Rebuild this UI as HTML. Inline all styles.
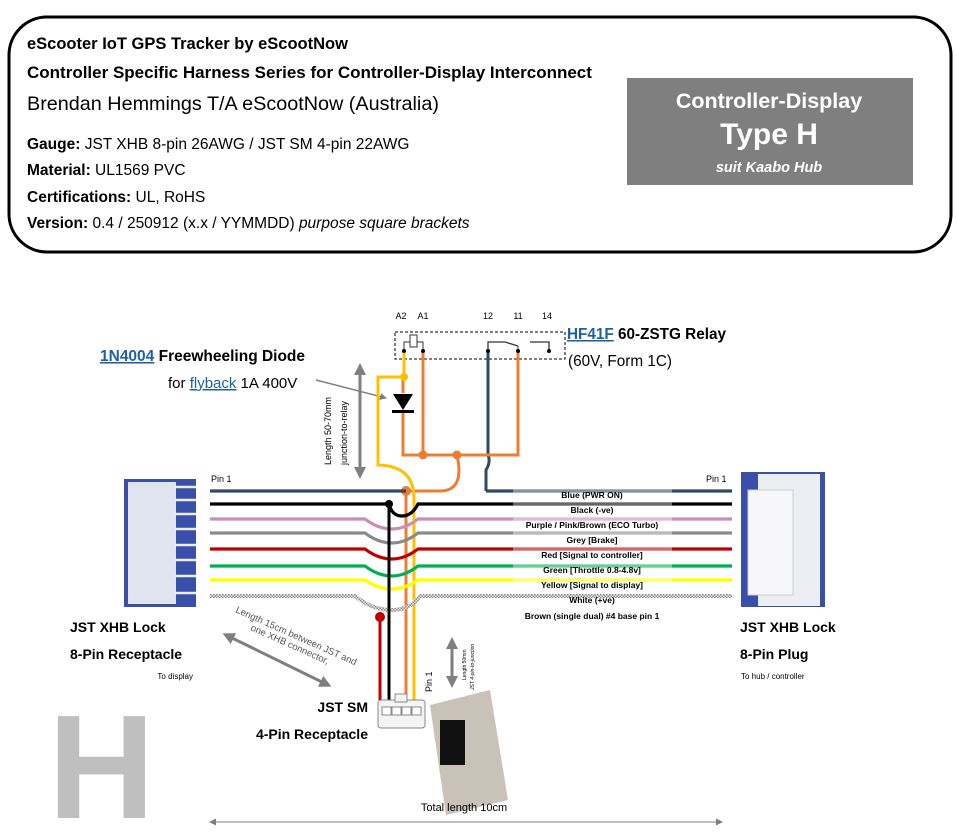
<!DOCTYPE html>
<html><head><meta charset="utf-8"><style>
html,body{margin:0;padding:0;background:#fff;}
body{width:957px;height:834px;overflow:hidden;position:relative;font-family:"Liberation Sans",sans-serif;}
svg{position:absolute;left:0;top:0;}
</style></head><body>
<svg width="957" height="834" viewBox="0 0 957 834" xmlns="http://www.w3.org/2000/svg" font-family="Liberation Sans, sans-serif">
<defs>
<pattern id="chk" width="3" height="3" patternUnits="userSpaceOnUse"><rect width="3" height="3" fill="#eee"/><rect width="1.5" height="1.5" fill="#888"/><rect x="1.5" y="1.5" width="1.5" height="1.5" fill="#888"/></pattern>
<marker id="ah" markerUnits="userSpaceOnUse" markerWidth="12" markerHeight="12" refX="6" refY="6" orient="auto-start-reverse"><path d="M0,0 L12,6 L0,12 z" fill="#7f7f7f"/></marker>
<marker id="ahs" markerUnits="userSpaceOnUse" markerWidth="7" markerHeight="7" refX="6" refY="3.5" orient="auto-start-reverse"><path d="M0,0 L7,3.5 L0,7 z" fill="#7f7f7f"/></marker>
</defs>
<rect x="9" y="17" width="942" height="235" rx="38" ry="38" fill="#fff" stroke="#000" stroke-width="3"/>
<g fill="#000" font-size="15.5">
<text x="27" y="49" font-weight="bold" font-size="16.5">eScooter IoT GPS Tracker by eScootNow</text>
<text x="27" y="78" font-weight="bold" font-size="17">Controller Specific Harness Series for Controller-Display Interconnect</text>
<text x="27" y="110" font-size="19.8">Brendan Hemmings T/A eScootNow (Australia)</text>
<text x="27" y="149" font-size="15.5"><tspan font-weight="bold">Gauge:</tspan> JST XHB 8-pin 26AWG / JST SM 4-pin 22AWG</text>
<text x="27" y="175" font-size="15.5"><tspan font-weight="bold">Material:</tspan> UL1569 PVC</text>
<text x="27" y="202" font-size="15.5"><tspan font-weight="bold">Certifications:</tspan> UL, RoHS</text>
<text x="27" y="228" font-size="15.5"><tspan font-weight="bold">Version:</tspan> 0.4 / 250912 (x.x / YYMMDD) <tspan font-style="italic">purpose square brackets</tspan></text>
</g>
<rect x="627" y="78" width="286" height="107" fill="#7f7f7f"/>
<g fill="#fff" font-weight="bold" text-anchor="middle">
<text x="769" y="108" font-size="21.5">Controller-Display</text>
<text x="769" y="144" font-size="30">Type H</text>
<text x="769" y="172" font-size="14.5" font-style="italic">suit Kaabo Hub</text>
</g>

<rect x="124" y="479" width="72" height="128" fill="#3a4faa"/>
<rect x="128" y="482" width="48" height="122" fill="#dfe4ee"/>
<g stroke="#eee" stroke-width="2.5"><line x1="175" y1="487" x2="196" y2="487"/><line x1="175" y1="500" x2="196" y2="500"/><line x1="175" y1="514" x2="196" y2="514"/><line x1="175" y1="529" x2="196" y2="529"/><line x1="175" y1="545" x2="196" y2="545"/><line x1="175" y1="560" x2="196" y2="560"/><line x1="175" y1="576" x2="196" y2="576"/><line x1="175" y1="593" x2="196" y2="593"/></g>
<rect x="741" y="472" width="84" height="135" fill="#3a4faa"/>
<rect x="758" y="474" width="62" height="132" fill="#eceef4"/>
<rect x="748" y="490" width="45" height="105" fill="#f7f7fa" stroke="#ccc"/>

<rect x="395" y="332" width="170" height="27" fill="none" stroke="#000" stroke-dasharray="3,2"/>
<g font-size="9" fill="#000" text-anchor="middle"><text x="401" y="319">A2</text><text x="423" y="319">A1</text><text x="488" y="319">12</text><text x="518" y="319">11</text><text x="547" y="319">14</text></g>
<path d="M404,351 V342 H410 M417,342 H423 V351" fill="none" stroke="#333"/>
<rect x="410" y="335" width="7" height="12" fill="#fff" stroke="#333"/>
<path d="M488,351 V342 H505 L518,346 M530,342 H549 V351" fill="none" stroke="#333" stroke-width="1.3"/>
<line x1="518" y1="346" x2="518" y2="351" stroke="#333"/>
<text x="567" y="339" font-size="15.3" font-weight="bold"><tspan fill="#1f5fa8" text-decoration="underline">HF41F</tspan> 60-ZSTG Relay</text>
<text x="568" y="366" font-size="15.3">(60V, Form 1C)</text>
<text x="100" y="361" font-size="15.5" font-weight="bold"><tspan fill="#1f5fa8" text-decoration="underline">1N4004</tspan> Freewheeling Diode</text>
<text x="168" y="388" font-size="15">for <tspan fill="#1f5fa8" text-decoration="underline">flyback</tspan> 1A 400V</text>
<line x1="316" y1="380" x2="386" y2="398" stroke="#7f7f7f" stroke-width="1.5" marker-end="url(#ahs)"/>
<line x1="360" y1="369" x2="360" y2="473" stroke="#7f7f7f" stroke-width="3" marker-start="url(#ah)" marker-end="url(#ah)"/>
<text transform="translate(331,465) rotate(-90)" font-size="9">Length 50-70mm</text>
<text transform="translate(347,465) rotate(-90)" font-size="9">junction-to-relay</text>

<path d="M486,491 V470 Q491,462 488,455 V351" fill="none" stroke="#2e4a66" stroke-width="3"/>
<path d="M423,351 V455 M403,412 V455 H518 V351 M457,455 Q465,491 440,491 H406" fill="none" stroke="#ed7d31" stroke-width="3"/>
<path d="M404,351 V377 H378 V465 Q414,466 414,498 V700" fill="none" stroke="#ffc000" stroke-width="3"/>
<path d="M403,377 V393" stroke="#ed7d31" stroke-width="3"/>
<polygon points="393,394 413,394 403,410" fill="#000"/><rect x="392" y="410" width="22" height="3" fill="#000"/>
<path d="M406,491 V700" stroke="#ed7d31" stroke-width="3"/>
<g fill="#ffc000"><circle cx="404" cy="377" r="4"/></g>
<g fill="#ed7d31"><circle cx="423" cy="455" r="4.5"/><circle cx="457" cy="455" r="4.5"/><circle cx="406" cy="491" r="5"/></g>
<g fill="#000"><circle cx="404" cy="351" r="2"/><circle cx="423" cy="351" r="2"/><circle cx="488" cy="351" r="2"/><circle cx="518" cy="351" r="2"/><circle cx="549" cy="351" r="2"/></g>

<g fill="none" stroke-width="3.2">
<path d="M210,491 H406 M486,491 H732" stroke="#2e4a66"/>
<path d="M210,504 H389 Q392,516 402,516 Q412,516 418,504 H732" stroke="#000"/>
<path d="M210,519 H365 Q378,529 392,529 Q405,529 418,519 H732" stroke="#c890ad"/>
<path d="M210,533 H365 Q378,543 392,543 Q405,543 418,533 H732" stroke="#8a8a8a"/>
<path d="M210,549 H365 Q378,559 392,559 Q405,559 418,549 H732" stroke="#c00000"/>
<path d="M210,566 H365 Q378,576 392,576 Q405,576 418,566 H732" stroke="#00b050"/>
<path d="M210,580 H365 Q378,589 392,589 Q405,589 418,580 H732" stroke="#ffff00"/>
<path d="M210,596 H355 Q372,610 392,610 Q410,610 420,596 H732" stroke="url(#chk)" stroke-width="4"/>
</g>
<g stroke="#fff" stroke-opacity="0.4" stroke-width="3.2"><line x1="513" y1="491" x2="672" y2="491"/><line x1="513" y1="504" x2="672" y2="504"/><line x1="513" y1="519" x2="672" y2="519"/><line x1="513" y1="533" x2="672" y2="533"/><line x1="513" y1="549" x2="672" y2="549"/><line x1="513" y1="566" x2="672" y2="566"/><line x1="513" y1="580" x2="672" y2="580"/></g>
<path d="M389,504 V700" stroke="#000" stroke-width="3"/>
<path d="M380,617 V700" stroke="#c00000" stroke-width="3"/>
<circle cx="380" cy="617" r="5" fill="#c00000"/>
<circle cx="389" cy="504" r="4" fill="#000"/>
<g font-size="8.5" font-weight="bold" text-anchor="middle" fill="#000">
<text x="592" y="498">Blue (PWR ON)</text><text x="592" y="513">Black (-ve)</text><text x="592" y="528">Purple / Pink/Brown (ECO Turbo)</text><text x="592" y="543">Grey [Brake]</text><text x="592" y="558">Red [Signal to controller]</text><text x="592" y="573">Green [Throttle 0.8-4.8v]</text><text x="592" y="588">Yellow [Signal to display]</text><text x="592" y="603">White (+ve)</text><text x="592" y="619">Brown (single dual) #4 base pin 1</text>
</g>
<text x="211" y="482" font-size="9">Pin 1</text><text x="706" y="482" font-size="9">Pin 1</text>

<rect x="378" y="700" width="47" height="28" rx="3" fill="#f4f4f4" stroke="#888"/>
<rect x="395" y="694" width="12" height="8" fill="#f4f4f4" stroke="#888"/>
<g fill="#fff" stroke="#888"><rect x="382" y="707" width="9" height="8"/><rect x="392" y="707" width="9" height="8"/><rect x="402" y="707" width="9" height="8"/><rect x="412" y="707" width="9" height="8"/></g>
<text transform="translate(432,692) rotate(-90)" font-size="9">Pin 1</text>
<polygon points="430,705 490,690 508,800 446,815" fill="#c8c2b8"/>
<rect x="440" y="720" width="25" height="45" fill="#111"/>
<line x1="452" y1="643" x2="452" y2="682" stroke="#7f7f7f" stroke-width="3" marker-start="url(#ah)" marker-end="url(#ah)"/>
<text transform="translate(466,680) rotate(-90)" font-size="5">Length 50mm</text>
<text transform="translate(474,690) rotate(-90)" font-size="5" font-style="italic">JST 4-pin-to-junction</text>

<line x1="228" y1="636" x2="326" y2="684" stroke="#7f7f7f" stroke-width="3" marker-start="url(#ah)" marker-end="url(#ah)"/>
<text transform="translate(235,612) rotate(24)" font-size="9.5" fill="#555">Length 15cm between JST and</text>
<text transform="translate(250,630) rotate(24)" font-size="9.5" fill="#555">one XHB connector,</text>

<g font-size="14" font-weight="bold" fill="#000">
<text x="70" y="632">JST XHB Lock</text><text x="70" y="659">8-Pin Receptacle</text>
<text x="740" y="632">JST XHB Lock</text><text x="740" y="659">8-Pin Plug</text>
<text x="368" y="712" text-anchor="end">JST SM</text><text x="368" y="739" text-anchor="end">4-Pin Receptacle</text>
</g>
<text x="193" y="679" font-size="8" text-anchor="end">To display</text>
<text x="741" y="679" font-size="8">To hub / controller</text>
<text x="48" y="818" font-size="148" font-weight="bold" fill="#bfbfbf">H</text>
<text x="464" y="811" font-size="11" text-anchor="middle">Total length 10cm</text>
<line x1="210" y1="822" x2="722" y2="822" stroke="#7f7f7f" stroke-width="1" marker-start="url(#ahs)" marker-end="url(#ahs)"/>
</svg>
</body></html>
